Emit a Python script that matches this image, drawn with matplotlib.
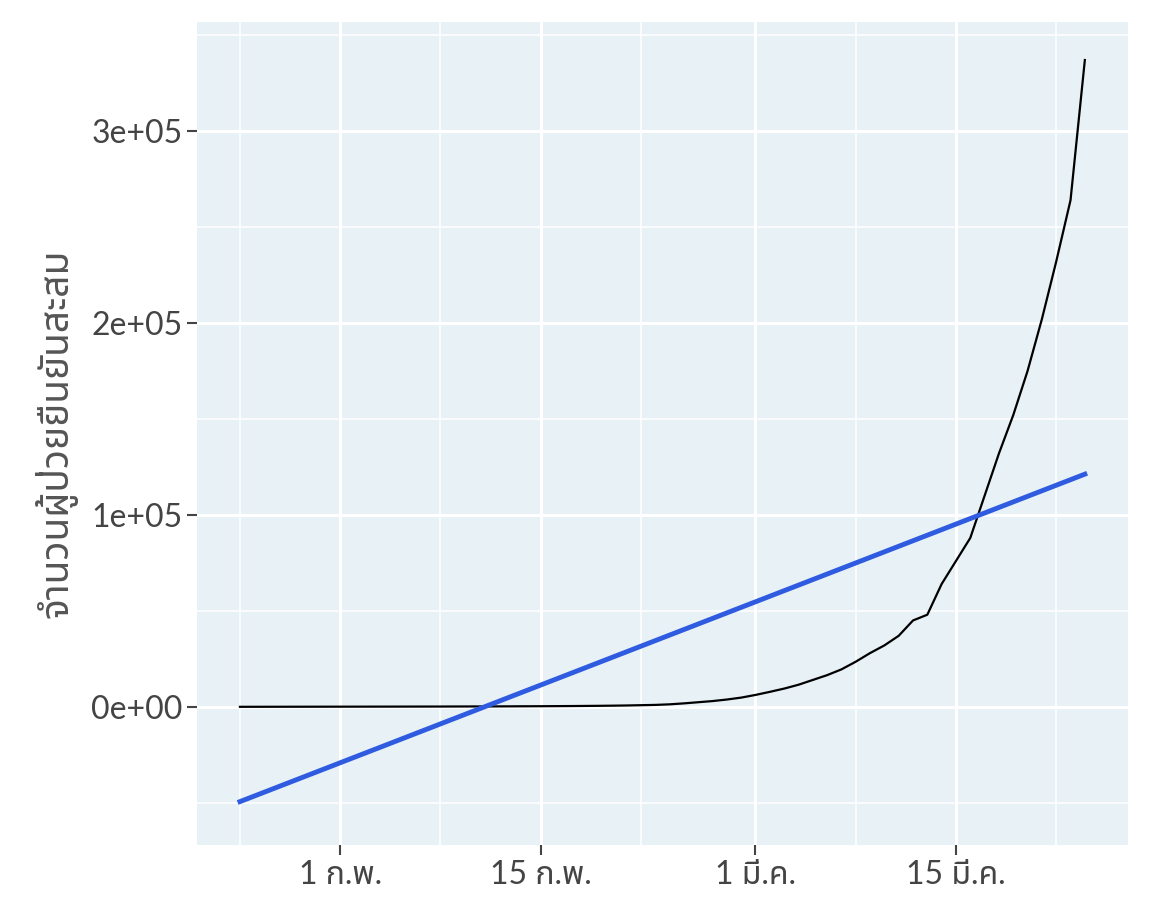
import numpy as np
import pandas as pd
import matplotlib as mpl
mpl.use('Agg')
import matplotlib.pyplot as plt
import matplotlib.dates as mdates

plt.rcParams['font.family'] = ['Lato', 'Noto Sans Thai', 'Noto Sans', 'DejaVu Sans']

start = '2020-01-25'
cases = [10, 20, 30, 40, 50, 60, 70, 80, 90, 100,
         110, 120, 130, 140, 150, 170, 190, 210, 230, 260,
         290, 320, 360, 400, 460, 520, 600, 700, 850, 1000,
         1300, 1800, 2400, 3000, 3800, 4800, 6200, 7800, 9500, 11500,
         14000, 16500, 19500, 23500, 28000, 32000, 37000, 45000, 48000, 64000,
         76000, 88000, 110000, 132000, 152000, 175000, 202000, 232000, 264000, 337000]
dates = pd.date_range(start, periods=len(cases), freq='D')
tick_dates = ['2020-02-01', '2020-02-15', '2020-03-01', '2020-03-15']
tick_labels = ['1 ก.พ.', '15 ก.พ.', '1 มี.ค.', '15 มี.ค.']
minor_dates = ['2020-01-25', '2020-02-08', '2020-02-22', '2020-03-08', '2020-03-22']

x = mdates.date2num(dates)
a, b = np.polyfit(x, cases, 1)

fig = plt.figure(figsize=(11.52, 9.22), dpi=100)
ax = fig.add_axes([0.171, 0.0835, 0.808, 0.893])
ax.set_facecolor('#e8f1f5')
for s in ax.spines.values():
    s.set_visible(False)

ax.plot(x, cases, color='black', lw=1.6, zorder=3)
ax.plot(x, a*x+b, color='#2f5be0', lw=3.5, zorder=4)

ax.set_xticks(mdates.date2num(pd.to_datetime(tick_dates)))
ax.set_xticklabels(tick_labels)
ax.set_xticks(mdates.date2num(pd.to_datetime(minor_dates)), minor=True)
ax.set_yticks([0, 100000, 200000, 300000])
ax.set_yticklabels(['0e+00', '1e+05', '2e+05', '3e+05'])
ax.set_yticks([-50000, 50000, 150000, 250000, 350000], minor=True)
ax.grid(which='major', color='white', lw=2.2)
ax.grid(which='minor', color='white', lw=1.1)
ax.set_axisbelow(True)
ax.tick_params(which='major', labelsize=23, colors='#444444', length=7, width=1.5)
ax.tick_params(which='minor', length=0)
ax.set_xlim(mdates.date2num(pd.Timestamp('2020-01-22')), mdates.date2num(pd.Timestamp('2020-03-27')))
ax.set_ylim(-72000, 357000)
ax.set_ylabel('จำนวนผู้ป่วยยืนยันสะสม', fontsize=28, color='#555555', labelpad=10)

plt.savefig('out.png', dpi=100)
plt.close()
